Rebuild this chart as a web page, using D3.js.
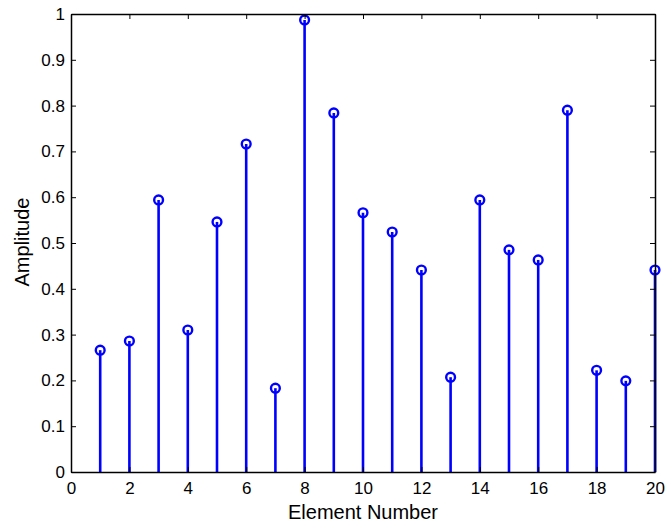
<!DOCTYPE html>
<html>
<head>
<meta charset="utf-8">
<script src="https://cdn.jsdelivr.net/npm/d3@7"></script>
<style>
  body { margin: 0; background: #fff; }
  text { font-family: "Liberation Sans", Arial, sans-serif; }
</style>
</head>
<body>
<div id="chart"></div>
<script>
// --- Data ---
const elements = d3.range(1, 21);
const amplitudes = [0.266, 0.286, 0.594, 0.310, 0.546, 0.716, 0.183, 0.987, 0.784, 0.566,
                    0.524, 0.441, 0.207, 0.594, 0.485, 0.463, 0.790, 0.222, 0.199, 0.441];
const xTicks = [0, 2, 4, 6, 8, 10, 12, 14, 16, 18, 20];
const yTicks = [0, 0.1, 0.2, 0.3, 0.4, 0.5, 0.6, 0.7, 0.8, 0.9, 1];

// --- Layout ---
const width = 665, height = 526;
const margin = { top: 14, right: 10, bottom: 54, left: 71 };
const innerW = width - margin.left - margin.right;
const innerH = height - margin.top - margin.bottom;

const svg = d3.select("#chart").append("svg")
    .attr("width", width)
    .attr("height", height);

const g = svg.append("g").attr("transform", `translate(${margin.left},${margin.top})`);

const x = d3.scaleLinear().domain([0, 20]).range([0, innerW]);
const y = d3.scaleLinear().domain([0, 1]).range([innerH, 0]);

const tickLen = 5;

// --- Stems ---
g.append("g").selectAll("line")
    .data(amplitudes)
    .enter()
    .append("line")
    .attr("x1", (d, i) => x(elements[i]))
    .attr("x2", (d, i) => x(elements[i]))
    .attr("y1", y(0))
    .attr("y2", d => y(d))
    .attr("stroke", "#0000ff")
    .attr("stroke-width", 2.6);

// --- Markers ---
g.append("g").selectAll("circle")
    .data(amplitudes)
    .enter()
    .append("circle")
    .attr("cx", (d, i) => x(elements[i]))
    .attr("cy", d => y(d))
    .attr("r", 4.4)
    .attr("fill", "none")
    .attr("stroke", "#0000ff")
    .attr("stroke-width", 2.4);

// --- Axes (MATLAB style: inward ticks on all four sides) ---
const xAxis = d3.axisBottom(x).tickValues(xTicks).tickFormat(d3.format("d"))
    .tickSizeInner(-tickLen).tickSizeOuter(0).tickPadding(10);
const yAxis = d3.axisLeft(y).tickValues(yTicks).tickFormat(d => d === 0 || d === 1 ? d : d3.format(".1f")(d))
    .tickSizeInner(-tickLen).tickSizeOuter(0).tickPadding(6);

const gx = g.append("g").attr("transform", `translate(0,${innerH})`).call(xAxis);
const gy = g.append("g").call(yAxis);
const gxTop = g.append("g").call(d3.axisTop(x).tickValues(xTicks).tickFormat("").tickSizeInner(-tickLen).tickSizeOuter(0));
const gyRight = g.append("g").attr("transform", `translate(${innerW},0)`)
    .call(d3.axisRight(y).tickValues(yTicks).tickFormat("").tickSizeInner(-tickLen).tickSizeOuter(0));

[gx, gy, gxTop, gyRight].forEach(a => {
    a.selectAll("path").attr("stroke", "#000").attr("stroke-width", 1.5);
    a.selectAll(".tick line").attr("stroke", "#000").attr("stroke-width", 1);
    a.selectAll("text").attr("fill", "#000").style("font-size", "17px")
        .style("font-family", "'Liberation Sans', Arial, sans-serif");
});

// --- Labels ---
svg.append("text")
    .attr("x", margin.left + innerW / 2)
    .attr("y", 519)
    .attr("text-anchor", "middle")
    .style("font-size", "20px")
    .text("Element Number");

svg.append("text")
    .attr("transform", `translate(29,242) rotate(-90)`)
    .attr("text-anchor", "middle")
    .style("font-size", "20px")
    .text("Amplitude");
</script>
</body>
</html>
